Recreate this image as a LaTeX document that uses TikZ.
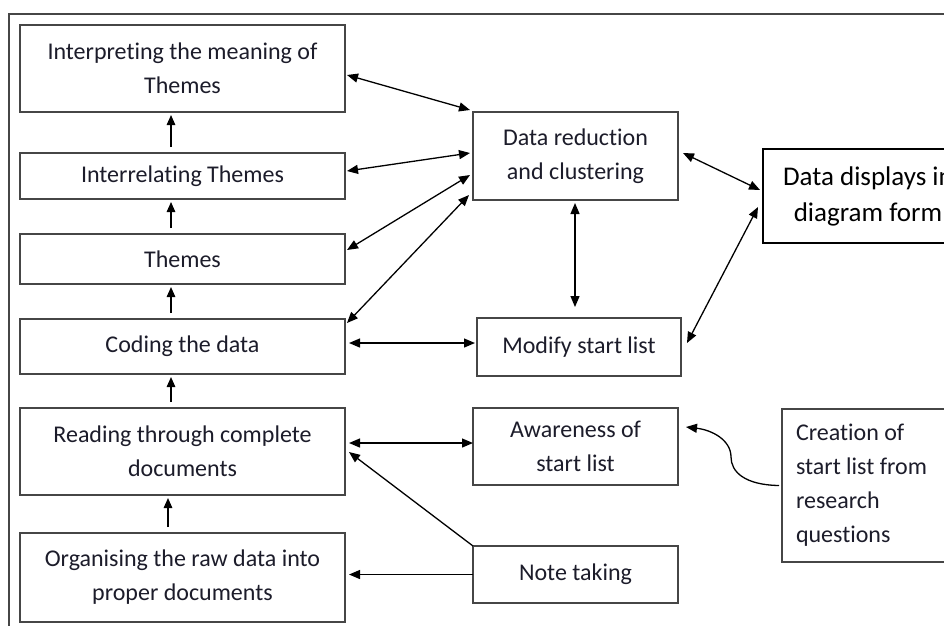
\documentclass[tikz,border=0pt]{standalone}
\usepackage{fontspec}
\setmainfont{Carlito}[Ligatures=CommonOff]
\usetikzlibrary{arrows.meta,calc}
\definecolor{framec}{RGB}{70,70,70}
\definecolor{textc}{RGB}{28,28,42}
\tikzset{
  box/.style={draw=framec, line width=1.4pt, inner sep=0pt, outer sep=0pt, align=center,
    text=textc, font=\fontsize{24}{34}\selectfont},
  conn/.style={line width=1.3pt, draw=black, {Triangle[length=11pt,width=9pt]}-{Triangle[length=11pt,width=9pt]}},
  one/.style={line width=1.3pt, draw=black, -{Triangle[length=11pt,width=9pt]}},
  up/.style={line width=1.3pt, draw=black, -{Triangle[length=10pt,width=8.5pt]}, shorten >=3pt, shorten <=6pt}
}
\begin{document}
\begin{tikzpicture}[x=1pt,y=-1pt]
\useasboundingbox (0,0) rectangle (944,625);
\clip (0,0) rectangle (944,625);
\fill[white] (0,0) rectangle (944,625);
\draw[framec, line width=1.4pt] (9,14) rectangle (960,650);

\node[box, minimum width=325pt, minimum height=87pt] (b1) at (182.5,68.5) {Interpreting the meaning of\\Themes};
\node[box, minimum width=325pt, minimum height=46pt] (b2) at (182.5,176) {Interrelating Themes};
\node[box, minimum width=325pt, minimum height=50pt] (b3) at (182.5,259) {Themes};
\node[box, minimum width=325pt, minimum height=55pt] (b4) at (182.5,346.5) {Coding the data};
\node[box, minimum width=325pt, minimum height=87pt] (b5) at (182.5,451.5) {Reading through complete\\documents};
\node[box, minimum width=325pt, minimum height=89pt] (b6) at (182.5,577.5) {Organising the raw data into\\proper documents};

\node[box, minimum width=205pt, minimum height=88pt] (dr) at (575.5,156) {Data reduction\\and clustering};
\node[box, draw=black, line width=1.6pt, text=black, font=\fontsize{27}{36}\selectfont, minimum width=210pt, minimum height=94pt] (dd) at (868,196) {Data displays in\\diagram form};
\node[box, minimum width=204pt, minimum height=58pt] (ms) at (579,347) {Modify start list};
\node[box, minimum width=205pt, minimum height=77pt] (aw) at (575.5,446.5) {Awareness of\\start list};
\node[box, minimum width=205pt, minimum height=57pt] (nt) at (575.5,574.5) {Note taking};
\node[box, minimum width=178pt, minimum height=153pt, text width=150pt, inner xsep=14pt, align=flush left] (cr) at (871,485.5) {Creation of\\start list from\\research\\questions};

% vertical chain
\draw[up] ([xshift=-11.5pt]b2.north) -- ([xshift=-11.5pt]b1.south);
\draw[up] ([xshift=-11.5pt]b3.north) -- ([xshift=-11.5pt]b2.south);
\draw[up] ([xshift=-11.5pt]b4.north) -- ([xshift=-11.5pt]b3.south);
\draw[up] ([xshift=-11.5pt]b5.north) -- ([xshift=-11.5pt]b4.south);
\draw[up] ([xshift=-14.5pt]b6.north) -- ([xshift=-14.5pt]b5.south);

% to data reduction
\draw[conn] ([xshift=2pt,yshift=-6.5pt]b1.east) -- ([xshift=-3pt,yshift=2pt]dr.north west);
\draw[conn] ([xshift=2pt,yshift=5pt]b2.east) -- ([xshift=-3pt,yshift=3pt]dr.west);
\draw[conn] ([xshift=2pt,yshift=9pt]b3.east) -- ([xshift=-3pt,yshift=-19pt]dr.west);
\draw[conn] ([xshift=2pt,yshift=-4pt]b4.north east) -- ([xshift=-4pt,yshift=5pt]dr.south west);

% horizontals
\draw[conn] ([xshift=4pt,yshift=3.5pt]b4.east) -- ([xshift=-2pt,yshift=4pt]ms.west);
\draw[conn] ([xshift=4pt,yshift=8.5pt]b5.east) -- ([xshift=0pt,yshift=3.5pt]aw.west);

% note taking
\draw[one] (nt.north west) -- ([xshift=4pt,yshift=-0.5pt]b5.east);
\draw[one] (nt.west) -- ([xshift=4pt]nt.west -| b6.east);

% right side
\draw[conn] ([xshift=5pt,yshift=3pt]dr.east) -- ([xshift=-3pt,yshift=6pt]dd.west);
\draw[conn, shorten <=3pt, shorten >=11pt] ([xshift=-0.5pt]dr.south) -- ([xshift=-0.5pt]dr.south |- ms.north);
\draw[conn] ([xshift=6pt,yshift=4pt]ms.east) -- ([xshift=-5pt,yshift=-11pt]dd.west);

% curved arrow
\draw[one] ([xshift=-3pt]cr.west) .. controls (745,485) and (731,472) .. (731,457)
  .. controls (731,440) and (712,430) .. ([xshift=8pt,yshift=19.5pt]aw.east);
\end{tikzpicture}
\end{document}
